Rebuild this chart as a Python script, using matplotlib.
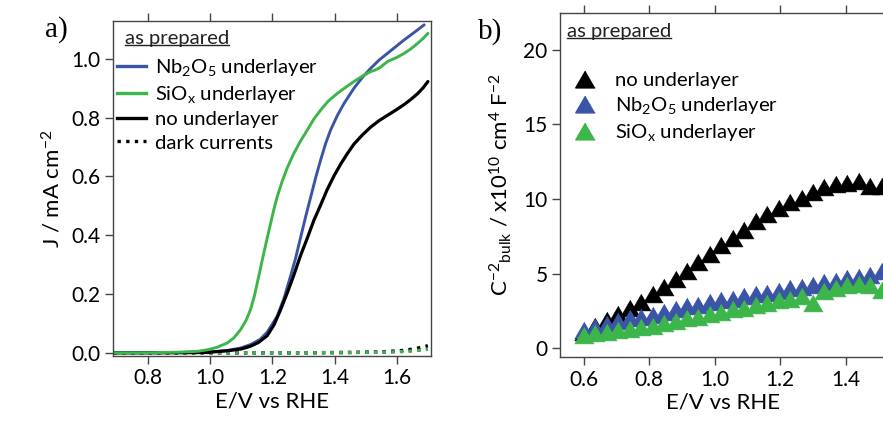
import matplotlib
matplotlib.use("Agg")
import matplotlib.pyplot as plt
from matplotlib.lines import Line2D

plt.rcParams['font.family'] = ['Lato', 'DejaVu Sans']
plt.rcParams['mathtext.fontset'] = 'custom'
plt.rcParams['mathtext.rm'] = 'Lato'
plt.rcParams['mathtext.it'] = 'Lato:italic'
plt.rcParams['mathtext.bf'] = 'Lato:bold'

# ---------------- data: panel a (J-E curves) ----------------
E_nb = [0.69, 0.80, 0.90, 1.00, 1.05, 1.097, 1.13, 1.161, 1.183, 1.204, 1.215, 1.237, 1.258,
        1.274, 1.290, 1.306, 1.323, 1.34, 1.355, 1.371, 1.387, 1.409, 1.43, 1.462, 1.49,
        1.516, 1.543, 1.570, 1.597, 1.624, 1.656, 1.688]
J_nb = [0.0, 0.0, 0.001, 0.003, 0.007, 0.016, 0.028, 0.046, 0.07, 0.105, 0.124, 0.185, 0.26,
        0.32, 0.39, 0.46, 0.53, 0.60, 0.656, 0.712, 0.758, 0.808, 0.848, 0.9, 0.938,
        0.968, 0.996, 1.019, 1.042, 1.065, 1.09, 1.116]

E_si = [0.69, 0.80, 0.90, 0.96, 0.99, 1.02, 1.054, 1.075, 1.097, 1.115, 1.129, 1.141, 1.151,
        1.162, 1.172, 1.183, 1.194, 1.205, 1.215, 1.23, 1.247, 1.268, 1.29, 1.312, 1.333,
        1.355, 1.38, 1.409, 1.435, 1.462, 1.49, 1.516, 1.53, 1.545, 1.57, 1.60, 1.624,
        1.645, 1.667, 1.685, 1.70]
J_si = [0.0, 0.0, 0.002, 0.005, 0.010, 0.018, 0.033, 0.05, 0.078, 0.11, 0.146, 0.19, 0.237,
        0.29, 0.339, 0.39, 0.44, 0.49, 0.53, 0.58, 0.628, 0.677, 0.72, 0.758, 0.795,
        0.826, 0.857, 0.883, 0.903, 0.923, 0.942, 0.957, 0.962, 0.97, 0.991, 1.005, 1.019,
        1.034, 1.053, 1.07, 1.087]

E_no = [0.69, 0.80, 0.90, 0.99, 1.065, 1.10, 1.129, 1.155, 1.183, 1.205, 1.226, 1.248, 1.269,
        1.29, 1.312, 1.333, 1.355, 1.376, 1.398, 1.42, 1.441, 1.462, 1.49, 1.516, 1.543,
        1.570, 1.597, 1.624, 1.645, 1.667, 1.685, 1.70]
J_no = [0.0, 0.0, 0.0, 0.001, 0.008, 0.013, 0.022, 0.035, 0.058, 0.095, 0.146, 0.205, 0.265,
        0.33, 0.39, 0.45, 0.503, 0.555, 0.602, 0.643, 0.678, 0.71, 0.742, 0.768, 0.79,
        0.808, 0.826, 0.845, 0.862, 0.882, 0.902, 0.923]

E_dark = [0.69, 0.90, 1.10, 1.30, 1.45, 1.55, 1.62, 1.66, 1.70]
J_dark_no = [0.0, 0.0, 0.0, 0.0, 0.001, 0.003, 0.008, 0.014, 0.024]
J_dark_nb = [0.0, 0.0, 0.0, 0.0, 0.001, 0.002, 0.005, 0.008, 0.012]
J_dark_si = [0.0, 0.0, 0.0, 0.0, 0.001, 0.002, 0.004, 0.007, 0.012]

# ---------------- data: panel b (Mott-Schottky) ----------------
E_ms = [0.600, 0.635, 0.670, 0.705, 0.740, 0.775, 0.810, 0.845, 0.880, 0.915, 0.950, 0.985,
        1.020, 1.055, 1.090, 1.125, 1.160, 1.195, 1.230, 1.265, 1.300, 1.335, 1.370, 1.405,
        1.440, 1.475, 1.510]
C_no = [1.1, 1.5, 1.9, 2.3, 2.7, 3.1, 3.6, 4.1, 4.6, 5.2, 5.8, 6.3, 6.9, 7.4, 7.9, 8.5, 9.0,
        9.4, 9.8, 10.1, 10.5, 10.8, 11.0, 11.1, 11.2, 10.9, 10.9]
C_nb = [1.2, 1.4, 1.6, 1.8, 2.0, 2.1, 2.2, 2.4, 2.6, 2.8, 2.9, 3.1, 3.2, 3.3, 3.5, 3.6, 3.7,
        3.8, 4.0, 4.1, 4.2, 4.4, 4.5, 4.7, 4.8, 4.9, 5.2]
C_si = [0.9, 1.0, 1.1, 1.2, 1.3, 1.4, 1.5, 1.7, 1.8, 2.0, 2.1, 2.3, 2.4, 2.6, 2.7, 2.9, 3.0,
        3.2, 3.3, 3.5, 3.0, 3.8, 4.0, 4.2, 4.3, 4.2, 3.9]

xticks_a = [0.8, 1.0, 1.2, 1.4, 1.6]
yticks_a = [0.0, 0.2, 0.4, 0.6, 0.8, 1.0]
xticks_b = [0.6, 0.8, 1.0, 1.2, 1.4]
yticks_b = [0, 5, 10, 15, 20]

BLUE = '#3a55a6'
GREEN = '#3cb64a'
BLACK = '#000000'
SPINE = '#444444'
FS = 15
LFS = 14.6

W, H = 883, 421
fig = plt.figure(figsize=(W / 100, H / 100), dpi=100)

def px_axes(l, t, r, b):
    return fig.add_axes([l / W, 1 - b / H, (r - l) / W, (b - t) / H])

def style(ax):
    for s in ax.spines.values():
        s.set_color(SPINE)
        s.set_linewidth(1.0)
    ax.tick_params(direction='out', length=6, width=1.0, color=SPINE,
                   labelsize=FS, pad=3, top=True, labeltop=False)

# ---------------- panel a ----------------
ax1 = px_axes(113, 21, 431, 356)
style(ax1)
dots = (0, (1.0, 1.6))
ax1.plot(E_dark, J_dark_nb, color=BLUE, lw=2.4, ls=dots)
ax1.plot(E_dark, J_dark_no, color=BLACK, lw=2.4, ls=dots)
ax1.plot(E_dark, J_dark_si, color=GREEN, lw=2.4, ls=dots)
ax1.plot(E_nb, J_nb, color=BLUE, lw=2.1, solid_capstyle='round', solid_joinstyle='round')
ax1.plot(E_no, J_no, color=BLACK, lw=2.3, solid_capstyle='round', solid_joinstyle='round')
ax1.plot(E_si, J_si, color=GREEN, lw=2.1, solid_capstyle='round', solid_joinstyle='round')
ax1.set_xlim(0.687, 1.71)
ax1.set_ylim(-0.011, 1.129)
ax1.set_xticks(xticks_a)
ax1.set_xticklabels([f"{v:.1f}" for v in xticks_a])
ax1.set_yticks(yticks_a)
ax1.set_yticklabels([f"{v:.1f}" for v in yticks_a])
ax1.set_xlabel("E/V vs RHE", fontsize=FS + 1, labelpad=2)
ax1.set_ylabel(r"J / mA cm$^{-2}$", fontsize=FS + 1, labelpad=5)

handles_a = [Line2D([], [], color=BLUE, lw=2.4),
             Line2D([], [], color=GREEN, lw=2.4),
             Line2D([], [], color=BLACK, lw=2.4),
             Line2D([], [], color=BLACK, lw=2.4, ls=dots)]
labels_a = [r"Nb$_2$O$_5$ underlayer", r"SiO$_\mathrm{x}$ underlayer", "no underlayer",
            "dark currents"]
ax1.legend(handles_a, labels_a, loc='upper left', bbox_to_anchor=(0.0, 0.905),
           frameon=False, fontsize=LFS, handlelength=1.45, handletextpad=0.42,
           labelspacing=0.3, borderaxespad=0.2, borderpad=0.0)
t1 = ax1.text(0.038, 0.947, "as prepared", transform=ax1.transAxes, fontsize=LFS,
              ha='left', va='center', color='#222222')
fig.text(45 / W, 1 - 30 / H, "a)", fontsize=21, family='Liberation Serif',
         ha='left', va='center')

# ---------------- panel b ----------------
ax2 = px_axes(560, 13, 886, 357)
style(ax2)
tri = [(0, 0.866), (-1, -0.866), (1, -0.866)]
ms = 14
ax2.plot(E_ms, C_no, ls='none', marker=tri, ms=ms, color=BLACK, mec=BLACK, mew=0.4)
ax2.plot(E_ms, C_nb, ls='none', marker=tri, ms=ms, color=BLUE, mec=BLUE, mew=0.4)
ax2.plot(E_ms, C_si, ls='none', marker=tri, ms=ms, color=GREEN, mec=GREEN, mew=0.4)
ax2.set_xlim(0.527, 1.523)
ax2.set_ylim(-0.6, 22.48)
ax2.set_xticks(xticks_b)
ax2.set_xticklabels([f"{v:.1f}" for v in xticks_b])
ax2.set_yticks(yticks_b)
ax2.set_yticklabels([str(v) for v in yticks_b])
ax2.set_xlabel("E/V vs RHE", fontsize=FS + 1, labelpad=2)
ax2.set_ylabel(r"C$^{-2}{}_{\mathrm{bulk}}$ / x10$^{10}$ cm$^{4}$ F$^{-2}$", fontsize=FS + 1,
               labelpad=7)

handles_b = [Line2D([], [], ls='none', marker=tri, ms=ms, color=c, mec=c)
             for c in (BLACK, BLUE, GREEN)]
labels_b = ["no underlayer", r"Nb$_2$O$_5$ underlayer", r"SiO$_\mathrm{x}$ underlayer"]
ax2.legend(handles_b, labels_b, loc='upper left', bbox_to_anchor=(0.045, 0.83),
           frameon=False, fontsize=LFS, handlelength=1.0, handletextpad=1.0,
           labelspacing=0.3, borderaxespad=0.0, borderpad=0.0)
t2 = ax2.text(0.022, 0.945, "as prepared", transform=ax2.transAxes, fontsize=LFS,
              ha='left', va='center', color='#222222')
fig.text(478 / W, 1 - 32 / H, "b)", fontsize=21, family='Liberation Serif',
         ha='left', va='center')

# underline "as prepared" labels
fig.canvas.draw()
r = fig.canvas.get_renderer()
for ax, t in ((ax1, t1), (ax2, t2)):
    bb = t.get_window_extent(r)
    inv = ax.transAxes.inverted()
    (x0, y0) = inv.transform((bb.x0, bb.y0 + 2))
    (x1, _) = inv.transform((bb.x1, bb.y0 + 2))
    ax.add_line(Line2D([x0, x1], [y0, y0], transform=ax.transAxes, color='#222222', lw=1.0))

fig.savefig("out.png", dpi=100)
